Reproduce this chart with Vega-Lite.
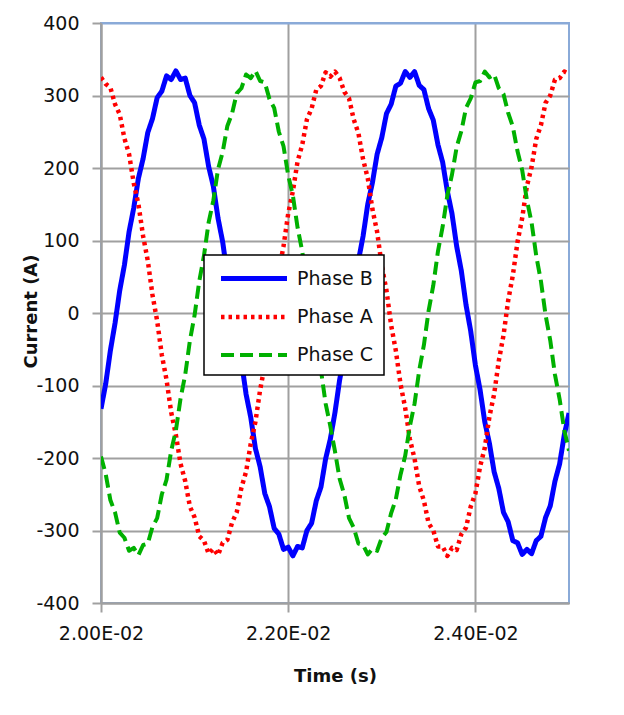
{
"$schema": "https://vega.github.io/schema/vega-lite/v6.json",
"width": 468, "height": 580,
"autosize": {"type": "none"},
"padding": {"left": 101, "top": 23, "right": 55, "bottom": 112},
"background": "white",
"config": {
  "font": "DejaVu Sans",
  "view": {"stroke": "#8aaad8", "strokeWidth": 2},
  "axis": {"labelFont": "DejaVu Sans", "labelFontSize": 19, "labelColor": "#111", "titleFont": "DejaVu Sans", "titleFontSize": 18, "titleFontWeight": "bold", "titleColor": "#111", "domainColor": "#a0a0a0", "domainWidth": 2, "tickColor": "#a0a0a0", "tickWidth": 2, "gridColor": "#a0a0a0", "gridWidth": 2, "tickSize": 9},
  "legend": {"strokeWidth": 1.5}
},
"data": {"values": [
{"t":0.02,"s":"Phase B","v":-132},{"t":0.02005,"s":"Phase B","v":-98},{"t":0.0201,"s":"Phase B","v":-52},{"t":0.02015,"s":"Phase B","v":-14},{"t":0.0202,"s":"Phase B","v":31},{"t":0.02025,"s":"Phase B","v":66},{"t":0.0203,"s":"Phase B","v":112},{"t":0.02035,"s":"Phase B","v":145},{"t":0.0204,"s":"Phase B","v":186},{"t":0.02045,"s":"Phase B","v":213},
{"t":0.0205,"s":"Phase B","v":249},{"t":0.02055,"s":"Phase B","v":268},{"t":0.0206,"s":"Phase B","v":297},{"t":0.02065,"s":"Phase B","v":306},{"t":0.0207,"s":"Phase B","v":327},{"t":0.02075,"s":"Phase B","v":322},{"t":0.0208,"s":"Phase B","v":334},{"t":0.02085,"s":"Phase B","v":322},{"t":0.0209,"s":"Phase B","v":324},{"t":0.02095,"s":"Phase B","v":300},
{"t":0.021,"s":"Phase B","v":290},{"t":0.02105,"s":"Phase B","v":259},{"t":0.0211,"s":"Phase B","v":240},{"t":0.02115,"s":"Phase B","v":202},{"t":0.0212,"s":"Phase B","v":175},{"t":0.02125,"s":"Phase B","v":131},{"t":0.0213,"s":"Phase B","v":98},{"t":0.02135,"s":"Phase B","v":52},{"t":0.0214,"s":"Phase B","v":17},{"t":0.02145,"s":"Phase B","v":-31},
{"t":0.0215,"s":"Phase B","v":-66},{"t":0.02155,"s":"Phase B","v":-112},{"t":0.0216,"s":"Phase B","v":-144},{"t":0.02165,"s":"Phase B","v":-187},{"t":0.0217,"s":"Phase B","v":-212},{"t":0.02175,"s":"Phase B","v":-249},{"t":0.0218,"s":"Phase B","v":-267},{"t":0.02185,"s":"Phase B","v":-297},{"t":0.0219,"s":"Phase B","v":-305},{"t":0.02195,"s":"Phase B","v":-326},
{"t":0.022,"s":"Phase B","v":-323},{"t":0.02205,"s":"Phase B","v":-335},{"t":0.0221,"s":"Phase B","v":-322},{"t":0.02215,"s":"Phase B","v":-324},{"t":0.0222,"s":"Phase B","v":-300},{"t":0.02225,"s":"Phase B","v":-290},{"t":0.0223,"s":"Phase B","v":-259},{"t":0.02235,"s":"Phase B","v":-240},{"t":0.0224,"s":"Phase B","v":-201},{"t":0.02245,"s":"Phase B","v":-174},
{"t":0.0225,"s":"Phase B","v":-137},{"t":0.02255,"s":"Phase B","v":-92},{"t":0.0226,"s":"Phase B","v":-58},{"t":0.02265,"s":"Phase B","v":-11},{"t":0.0227,"s":"Phase B","v":25},{"t":0.02275,"s":"Phase B","v":72},{"t":0.0228,"s":"Phase B","v":106},{"t":0.02285,"s":"Phase B","v":150},{"t":0.0229,"s":"Phase B","v":180},{"t":0.02295,"s":"Phase B","v":219},
{"t":0.023,"s":"Phase B","v":242},{"t":0.02305,"s":"Phase B","v":275},{"t":0.0231,"s":"Phase B","v":288},{"t":0.02315,"s":"Phase B","v":313},{"t":0.0232,"s":"Phase B","v":317},{"t":0.02325,"s":"Phase B","v":333},{"t":0.0233,"s":"Phase B","v":325},{"t":0.02335,"s":"Phase B","v":333},{"t":0.0234,"s":"Phase B","v":314},{"t":0.02345,"s":"Phase B","v":308},
{"t":0.0235,"s":"Phase B","v":282},{"t":0.02355,"s":"Phase B","v":266},{"t":0.0236,"s":"Phase B","v":232},{"t":0.02365,"s":"Phase B","v":208},{"t":0.0237,"s":"Phase B","v":168},{"t":0.02375,"s":"Phase B","v":137},{"t":0.0238,"s":"Phase B","v":92},{"t":0.02385,"s":"Phase B","v":58},{"t":0.0239,"s":"Phase B","v":11},{"t":0.02395,"s":"Phase B","v":-25},
{"t":0.024,"s":"Phase B","v":-72},{"t":0.02405,"s":"Phase B","v":-106},{"t":0.0241,"s":"Phase B","v":-150},{"t":0.02415,"s":"Phase B","v":-180},{"t":0.0242,"s":"Phase B","v":-219},{"t":0.02425,"s":"Phase B","v":-242},{"t":0.0243,"s":"Phase B","v":-275},{"t":0.02435,"s":"Phase B","v":-288},{"t":0.0244,"s":"Phase B","v":-314},{"t":0.02445,"s":"Phase B","v":-317},
{"t":0.0245,"s":"Phase B","v":-333},{"t":0.02455,"s":"Phase B","v":-326},{"t":0.0246,"s":"Phase B","v":-332},{"t":0.02465,"s":"Phase B","v":-314},{"t":0.0247,"s":"Phase B","v":-308},{"t":0.02475,"s":"Phase B","v":-282},{"t":0.0248,"s":"Phase B","v":-266},{"t":0.02485,"s":"Phase B","v":-232},{"t":0.0249,"s":"Phase B","v":-208},{"t":0.02495,"s":"Phase B","v":-168},
{"t":0.025,"s":"Phase B","v":-138},
{"t":0.02,"s":"Phase A","v":325},{"t":0.02005,"s":"Phase A","v":316},{"t":0.0201,"s":"Phase A","v":311},{"t":0.02015,"s":"Phase A","v":288},{"t":0.0202,"s":"Phase A","v":274},{"t":0.02025,"s":"Phase A","v":241},{"t":0.0203,"s":"Phase A","v":219},{"t":0.02035,"s":"Phase A","v":179},{"t":0.0204,"s":"Phase A","v":150},{"t":0.02045,"s":"Phase A","v":106},
{"t":0.0205,"s":"Phase A","v":72},{"t":0.02055,"s":"Phase A","v":25},{"t":0.0206,"s":"Phase A","v":-11},{"t":0.02065,"s":"Phase A","v":-58},{"t":0.0207,"s":"Phase A","v":-92},{"t":0.02075,"s":"Phase A","v":-137},{"t":0.0208,"s":"Phase A","v":-168},{"t":0.02085,"s":"Phase A","v":-208},{"t":0.0209,"s":"Phase A","v":-232},{"t":0.02095,"s":"Phase A","v":-267},
{"t":0.021,"s":"Phase A","v":-282},{"t":0.02105,"s":"Phase A","v":-308},{"t":0.0211,"s":"Phase A","v":-314},{"t":0.02115,"s":"Phase A","v":-332},{"t":0.0212,"s":"Phase A","v":-325},{"t":0.02125,"s":"Phase A","v":-334},{"t":0.0213,"s":"Phase A","v":-317},{"t":0.02135,"s":"Phase A","v":-313},{"t":0.0214,"s":"Phase A","v":-289},{"t":0.02145,"s":"Phase A","v":-275},
{"t":0.0215,"s":"Phase A","v":-241},{"t":0.02155,"s":"Phase A","v":-219},{"t":0.0216,"s":"Phase A","v":-180},{"t":0.02165,"s":"Phase A","v":-150},{"t":0.0217,"s":"Phase A","v":-106},{"t":0.02175,"s":"Phase A","v":-72},{"t":0.0218,"s":"Phase A","v":-25},{"t":0.02185,"s":"Phase A","v":11},{"t":0.0219,"s":"Phase A","v":58},{"t":0.02195,"s":"Phase A","v":92},
{"t":0.022,"s":"Phase A","v":137},{"t":0.02205,"s":"Phase A","v":168},{"t":0.0221,"s":"Phase A","v":209},{"t":0.02215,"s":"Phase A","v":232},{"t":0.0222,"s":"Phase A","v":267},{"t":0.02225,"s":"Phase A","v":282},{"t":0.0223,"s":"Phase A","v":308},{"t":0.02235,"s":"Phase A","v":313},{"t":0.0224,"s":"Phase A","v":332},{"t":0.02245,"s":"Phase A","v":326},
{"t":0.0225,"s":"Phase A","v":333},{"t":0.02255,"s":"Phase A","v":324},{"t":0.0226,"s":"Phase A","v":305},{"t":0.02265,"s":"Phase A","v":296},{"t":0.0227,"s":"Phase A","v":267},{"t":0.02275,"s":"Phase A","v":248},{"t":0.0228,"s":"Phase A","v":212},{"t":0.02285,"s":"Phase A","v":186},{"t":0.0229,"s":"Phase A","v":143},{"t":0.02295,"s":"Phase A","v":112},
{"t":0.023,"s":"Phase A","v":65},{"t":0.02305,"s":"Phase A","v":31},{"t":0.0231,"s":"Phase A","v":-17},{"t":0.02315,"s":"Phase A","v":-52},{"t":0.0232,"s":"Phase A","v":-98},{"t":0.02325,"s":"Phase A","v":-131},{"t":0.0233,"s":"Phase A","v":-174},{"t":0.02335,"s":"Phase A","v":-201},{"t":0.0234,"s":"Phase A","v":-239},{"t":0.02345,"s":"Phase A","v":-259},
{"t":0.0235,"s":"Phase A","v":-290},{"t":0.02355,"s":"Phase A","v":-300},{"t":0.0236,"s":"Phase A","v":-322},{"t":0.02365,"s":"Phase A","v":-322},{"t":0.0237,"s":"Phase A","v":-335},{"t":0.02375,"s":"Phase A","v":-324},{"t":0.0238,"s":"Phase A","v":-327},{"t":0.02385,"s":"Phase A","v":-305},{"t":0.0239,"s":"Phase A","v":-296},{"t":0.02395,"s":"Phase A","v":-267},
{"t":0.024,"s":"Phase A","v":-249},{"t":0.02405,"s":"Phase A","v":-212},{"t":0.0241,"s":"Phase A","v":-186},{"t":0.02415,"s":"Phase A","v":-143},{"t":0.0242,"s":"Phase A","v":-112},{"t":0.02425,"s":"Phase A","v":-66},{"t":0.0243,"s":"Phase A","v":-31},{"t":0.02435,"s":"Phase A","v":17},{"t":0.0244,"s":"Phase A","v":52},{"t":0.02445,"s":"Phase A","v":98},
{"t":0.0245,"s":"Phase A","v":131},{"t":0.02455,"s":"Phase A","v":175},{"t":0.0246,"s":"Phase A","v":201},{"t":0.02465,"s":"Phase A","v":240},{"t":0.0247,"s":"Phase A","v":259},{"t":0.02475,"s":"Phase A","v":290},{"t":0.0248,"s":"Phase A","v":300},{"t":0.02485,"s":"Phase A","v":322},{"t":0.0249,"s":"Phase A","v":324},{"t":0.02495,"s":"Phase A","v":333},
{"t":0.025,"s":"Phase A","v":330},
{"t":0.02,"s":"Phase C","v":-198},{"t":0.02005,"s":"Phase C","v":-222},{"t":0.0201,"s":"Phase C","v":-258},{"t":0.02015,"s":"Phase C","v":-275},{"t":0.0202,"s":"Phase C","v":-303},{"t":0.02025,"s":"Phase C","v":-310},{"t":0.0203,"s":"Phase C","v":-328},{"t":0.02035,"s":"Phase C","v":-324},{"t":0.0204,"s":"Phase C","v":-334},{"t":0.02045,"s":"Phase C","v":-320},
{"t":0.0205,"s":"Phase C","v":-318},{"t":0.02055,"s":"Phase C","v":-295},{"t":0.0206,"s":"Phase C","v":-283},{"t":0.02065,"s":"Phase C","v":-250},{"t":0.0207,"s":"Phase C","v":-230},{"t":0.02075,"s":"Phase C","v":-190},{"t":0.0208,"s":"Phase C","v":-162},{"t":0.02085,"s":"Phase C","v":-118},{"t":0.0209,"s":"Phase C","v":-85},{"t":0.02095,"s":"Phase C","v":-38},
{"t":0.021,"s":"Phase C","v":-3},{"t":0.02105,"s":"Phase C","v":44},{"t":0.0211,"s":"Phase C","v":79},{"t":0.02115,"s":"Phase C","v":125},{"t":0.0212,"s":"Phase C","v":155},{"t":0.02125,"s":"Phase C","v":198},{"t":0.0213,"s":"Phase C","v":222},{"t":0.02135,"s":"Phase C","v":258},{"t":0.0214,"s":"Phase C","v":275},{"t":0.02145,"s":"Phase C","v":303},
{"t":0.0215,"s":"Phase C","v":310},{"t":0.02155,"s":"Phase C","v":329},{"t":0.0216,"s":"Phase C","v":324},{"t":0.02165,"s":"Phase C","v":334},{"t":0.0217,"s":"Phase C","v":320},{"t":0.02175,"s":"Phase C","v":318},{"t":0.0218,"s":"Phase C","v":295},{"t":0.02185,"s":"Phase C","v":283},{"t":0.0219,"s":"Phase C","v":250},{"t":0.02195,"s":"Phase C","v":230},
{"t":0.022,"s":"Phase C","v":190},{"t":0.02205,"s":"Phase C","v":162},{"t":0.0221,"s":"Phase C","v":118},{"t":0.02215,"s":"Phase C","v":85},{"t":0.0222,"s":"Phase C","v":38},{"t":0.02225,"s":"Phase C","v":3},{"t":0.0223,"s":"Phase C","v":-44},{"t":0.02235,"s":"Phase C","v":-79},{"t":0.0224,"s":"Phase C","v":-125},{"t":0.02245,"s":"Phase C","v":-156},
{"t":0.0225,"s":"Phase C","v":-191},{"t":0.02255,"s":"Phase C","v":-229},{"t":0.0226,"s":"Phase C","v":-251},{"t":0.02265,"s":"Phase C","v":-283},{"t":0.0227,"s":"Phase C","v":-296},{"t":0.02275,"s":"Phase C","v":-318},{"t":0.0228,"s":"Phase C","v":-320},{"t":0.02285,"s":"Phase C","v":-333},{"t":0.0229,"s":"Phase C","v":-325},{"t":0.02295,"s":"Phase C","v":-328},
{"t":0.023,"s":"Phase C","v":-310},{"t":0.02305,"s":"Phase C","v":-302},{"t":0.0231,"s":"Phase C","v":-276},{"t":0.02315,"s":"Phase C","v":-257},{"t":0.0232,"s":"Phase C","v":-223},{"t":0.02325,"s":"Phase C","v":-197},{"t":0.0233,"s":"Phase C","v":-156},{"t":0.02335,"s":"Phase C","v":-125},{"t":0.0234,"s":"Phase C","v":-79},{"t":0.02345,"s":"Phase C","v":-44},
{"t":0.0235,"s":"Phase C","v":3},{"t":0.02355,"s":"Phase C","v":38},{"t":0.0236,"s":"Phase C","v":85},{"t":0.02365,"s":"Phase C","v":119},{"t":0.0237,"s":"Phase C","v":162},{"t":0.02375,"s":"Phase C","v":191},{"t":0.0238,"s":"Phase C","v":229},{"t":0.02385,"s":"Phase C","v":251},{"t":0.0239,"s":"Phase C","v":283},{"t":0.02395,"s":"Phase C","v":296},
{"t":0.024,"s":"Phase C","v":318},{"t":0.02405,"s":"Phase C","v":320},{"t":0.0241,"s":"Phase C","v":333},{"t":0.02415,"s":"Phase C","v":325},{"t":0.0242,"s":"Phase C","v":329},{"t":0.02425,"s":"Phase C","v":310},{"t":0.0243,"s":"Phase C","v":302},{"t":0.02435,"s":"Phase C","v":276},{"t":0.0244,"s":"Phase C","v":257},{"t":0.02445,"s":"Phase C","v":223},
{"t":0.0245,"s":"Phase C","v":197},{"t":0.02455,"s":"Phase C","v":156},{"t":0.0246,"s":"Phase C","v":125},{"t":0.02465,"s":"Phase C","v":79},{"t":0.0247,"s":"Phase C","v":44},{"t":0.02475,"s":"Phase C","v":-3},{"t":0.0248,"s":"Phase C","v":-38},{"t":0.02485,"s":"Phase C","v":-85},{"t":0.0249,"s":"Phase C","v":-119},{"t":0.02495,"s":"Phase C","v":-162},
{"t":0.025,"s":"Phase C","v":-190}
]},
"mark": {"type": "line", "strokeJoin": "round", "strokeCap": "butt", "clip": true},
"encoding": {
  "x": {"field": "t", "type": "quantitative",
    "scale": {"domain": [0.02, 0.025], "nice": false, "zero": false},
    "axis": {"values": [0.02, 0.022, 0.024], "labelExpr": "format(datum.value*100,'.2f')+'E-02'", "title": "Time (s)", "labelPadding": 12, "labelFlush": false, "titleX": 234, "titleY": 73, "titleBaseline": "middle"}},
  "y": {"field": "v", "type": "quantitative",
    "scale": {"domain": [-400, 400], "nice": false},
    "axis": {"values": [-400, -300, -200, -100, 0, 100, 200, 300, 400], "labelExpr": "'' + datum.value", "title": "Current (A)", "labelPadding": 13, "titleX": -70, "titleY": 288, "titleAngle": -90, "titleBaseline": "middle",
      "gridColor": {"condition": {"test": "datum.value === 400", "value": "#8aaad8"}, "value": "#a0a0a0"}}},
  "color": {"field": "s", "type": "nominal",
    "scale": {"domain": ["Phase B", "Phase A", "Phase C"], "range": ["#0000ff", "#ff0000", "#00b000"]},
    "legend": {"orient": "none", "legendX": 103, "legendY": 232, "title": null, "symbolType": "M-0.59,0H5.41", "symbolSize": 484, "symbolStrokeWidth": 5, "labelFont": "DejaVu Sans", "labelFontSize": 19, "labelColor": "#111", "strokeColor": "#000", "fillColor": "#fff", "padding": 10, "rowPadding": 14.5, "labelOffset": 56}},
  "strokeDash": {"field": "s", "type": "nominal",
    "scale": {"domain": ["Phase B", "Phase A", "Phase C"], "range": [[1, 0], [3.5, 4], [13, 6]]}},
  "strokeWidth": {"field": "s", "type": "nominal",
    "scale": {"domain": ["Phase B", "Phase A", "Phase C"], "range": [5, 4, 5]}}
}
}
